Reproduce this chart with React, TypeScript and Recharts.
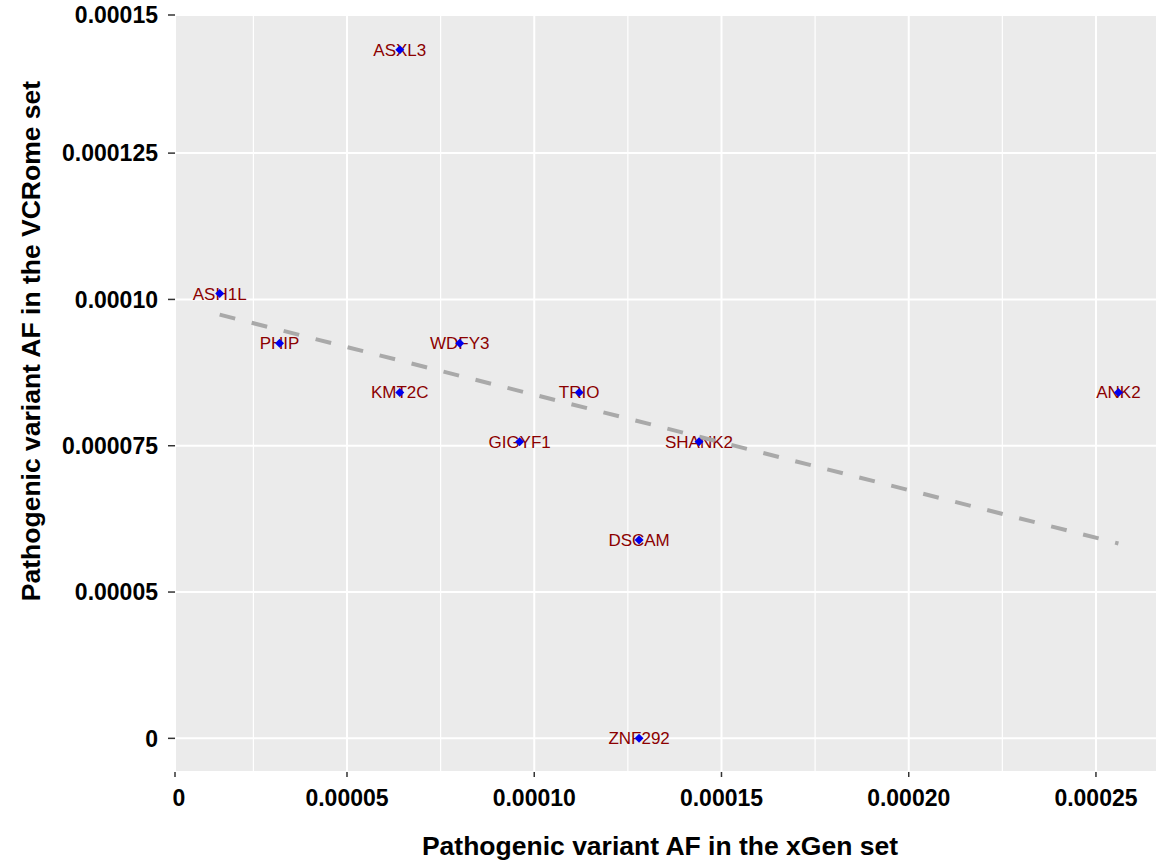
import React from "react";
import {
  ScatterChart,
  Scatter,
  XAxis,
  YAxis,
  CartesianGrid,
  Label,
} from "recharts";

const FONT = '"Liberation Sans", Arial, Helvetica, sans-serif';

// genes and their allele frequencies
const genes = ["ASH1L", "PHIP", "KMT2C", "ASXL3", "WDFY3", "GIGYF1", "TRIO", "DSCAM", "ZNF292", "SHANK2", "ANK2"];
const xgenAF = [0.000016, 0.000032, 0.0000641, 0.0000641, 0.0000801, 0.0000961, 0.000112, 0.000128, 0.000128, 0.000144, 0.000256];
const vcromeAF = [0.000101, 0.0000925, 0.0000841, 0.0001437, 0.0000925, 0.0000757, 0.0000841, 0.0000589, 0, 0.0000757, 0.0000841];

// dashed fit line end points
const trendX = [0.000016, 0.000256];
const trendY = [0.0000974, 0.0000583];

// x axis: left edge of the panel carries the "0" label
const xMin = 0.00000407;
const xMax = 0.0002663;
const xTicks = [xMin, 0.00005, 0.0001, 0.00015, 0.0002, 0.00025];
const xTickLabels = ["0", "0.00005", "0.00010", "0.00015", "0.00020", "0.00025"];
const xMinorGrid = [0.000025, 0.000075, 0.000125, 0.000175, 0.000225];

// y axis is not evenly spaced: labels sit on these slots
const yTickValues = [0, 0.00005, 0.000075, 0.0001, 0.000125, 0.00015];
const yTickSlots = [0.000025, 0.00005, 0.000075, 0.0001, 0.000125, 0.0001486];
const yTickLabels = ["0", "0.00005", "0.000075", "0.00010", "0.000125", "0.00015"];
const yMin = 0.00001925;
const yMax = 0.0001486;

function toSlot(v: number) {
  const n = yTickValues.length;
  let i = 0;
  while (i < n - 2 && v > yTickValues[i + 1]) i++;
  const t = (v - yTickValues[i]) / (yTickValues[i + 1] - yTickValues[i]);
  return yTickSlots[i] + t * (yTickSlots[i + 1] - yTickSlots[i]);
}

const points = genes.map((g, i) => ({ gene: g, x: xgenAF[i], y: toSlot(vcromeAF[i]) }));
const trend = trendX.map((x, i) => ({ x, y: toSlot(trendY[i]) }));

const GeneLabel = (props: any) => {
  const { cx, cy, payload } = props;
  return (
    <text
      x={cx}
      y={cy + 6}
      textAnchor="middle"
      fontSize={17}
      fontFamily={FONT}
      fill="#8B0000"
    >
      {payload.gene}
    </text>
  );
};

const Diamond = (props: any) => {
  const { cx, cy } = props;
  const r = 4.5;
  return (
    <polygon
      points={`${cx},${cy - r} ${cx + r},${cy} ${cx},${cy + r} ${cx - r},${cy}`}
      fill="#0000EE"
    />
  );
};

const XTick = (props: any) => {
  const { x, y, index } = props;
  return (
    <text
      x={x + (index === 0 ? 4 : 0)}
      y={y}
      dy="0.71em"
      textAnchor="middle"
      fontSize={23}
      fontWeight={700}
      fontFamily={FONT}
      fill="#000"
    >
      {xTickLabels[index]}
    </text>
  );
};

const yLabelFor = (v: number) => {
  const i = yTickSlots.findIndex((s) => Math.abs(s - v) < 1e-9);
  return i >= 0 ? yTickLabels[i] : "";
};

export default function App() {
  return (
    <div style={{ position: "absolute", left: 0, top: 0, background: "#fff" }}>
      <ScatterChart
        width={1157}
        height={862}
        margin={{ top: 15, right: 0, bottom: 0, left: 0 }}
      >
        <CartesianGrid
          fill="#EBEBEB"
          fillOpacity={1}
          stroke="#FFFFFF"
          strokeWidth={2}
        />
        <CartesianGrid
          horizontal={false}
          stroke="#FFFFFF"
          strokeWidth={1.2}
          verticalCoordinatesGenerator={(args: any) => {
            const { xAxis, offset } = args;
            if (xAxis && typeof xAxis.scale === "function") {
              return xMinorGrid.map((v) => xAxis.scale(v));
            }
            return xMinorGrid.map(
              (v) => offset.left + ((v - xMin) / (xMax - xMin)) * offset.width
            );
          }}
        />
        <XAxis
          type="number"
          dataKey="x"
          domain={[xMin, xMax]}
          allowDataOverflow
          ticks={xTicks}
          interval={0}
          height={90}
          axisLine={false}
          tickSize={5}
          tickMargin={13}
          tickLine={{ stroke: "#333", strokeWidth: 1.5 }}
          tick={<XTick />}
        >
          <Label
            content={() => (
              <text
                x={660}
                y={855}
                textAnchor="middle"
                fontSize={26.5}
                fontWeight={700}
                fontFamily={FONT}
                fill="#000"
              >
                Pathogenic variant AF in the xGen set
              </text>
            )}
          />
        </XAxis>
        <YAxis
          type="number"
          dataKey="y"
          domain={[yMin, yMax]}
          allowDataOverflow
          ticks={yTickSlots}
          interval={0}
          width={175}
          axisLine={false}
          tickSize={7}
          tickMargin={10}
          tickLine={{ stroke: "#333", strokeWidth: 1.5 }}
          tickFormatter={yLabelFor}
          tick={{ fontSize: 23, fontWeight: 700, fill: "#000", fontFamily: FONT }}
        >
          <Label
            content={() => (
              <text
                x={40}
                y={341}
                transform="rotate(-90 40 341)"
                textAnchor="middle"
                fontSize={26.5}
                fontWeight={700}
                fontFamily={FONT}
                fill="#000"
              >
                Pathogenic variant AF in the VCRome set
              </text>
            )}
          />
        </YAxis>
        <Scatter data={points} shape={<GeneLabel />} isAnimationActive={false} />
        <Scatter
          data={trend}
          line={{ stroke: "#A9A9A9", strokeWidth: 4, strokeDasharray: "16 17" }}
          shape={() => <g />}
          isAnimationActive={false}
        />
        <Scatter data={points} shape={<Diamond />} isAnimationActive={false} />
      </ScatterChart>
    </div>
  );
}
